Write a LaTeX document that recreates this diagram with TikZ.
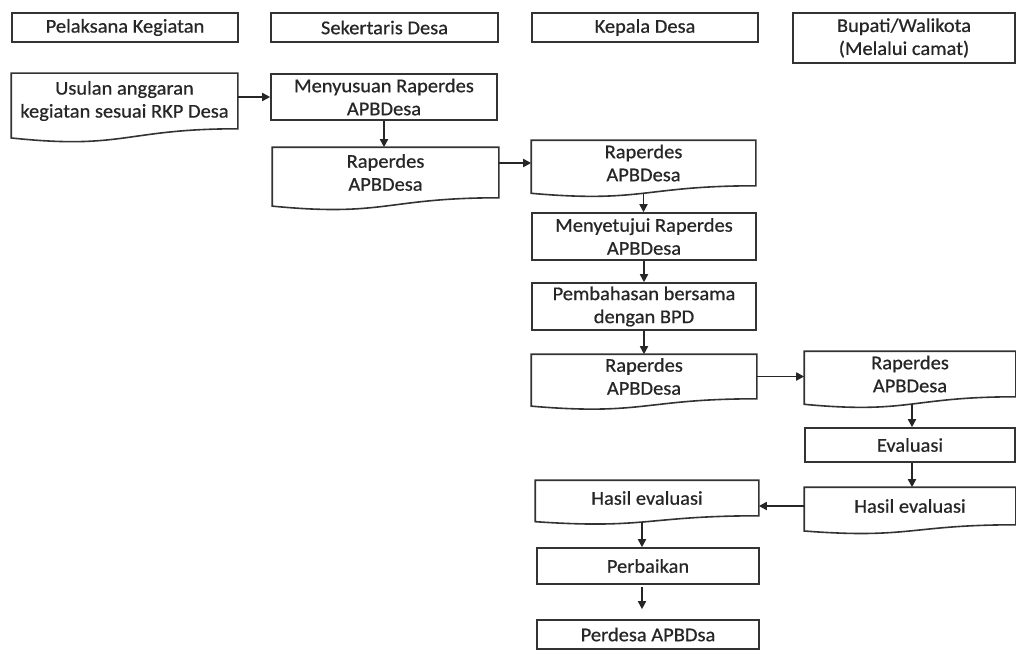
\documentclass[tikz,border=0pt]{standalone}
\usepackage{fontspec}
\setmainfont{Carlito}[FakeStretch=1.05,FakeBold=0.6]
\usetikzlibrary{arrows.meta,calc}
\tikzset{
  boxline/.style={line width=1.6pt, draw=black!80},
  box/.style={boxline, rectangle, inner sep=0pt, align=center, text=black!85,
    font=\fontsize{19.5}{23}\selectfont},
  docbox/.style={box, draw=none},
  conn/.style={line width=1.7pt, draw=black!85, -{Triangle[length=8pt,width=8pt]}},
}
\newcommand\docout[1]{%
  \draw[boxline] let \p1=(#1.north west), \p2=(#1.south east), \n1={\y1-\y2} in
    (\p2) -- (\x2,\y1) -- (\p1) -- (\x1,{\y2-0.1646*\n1})
    .. controls ({(\x1+\x2)/2},{\y2-0.3815*\n1}) and ({(\x1+\x2)/2},\y2) .. (\p2) -- cycle;}
\begin{document}
\begin{tikzpicture}[x=1pt,y=-1pt]
\useasboundingbox[fill=white] (0,0) rectangle (1016,650);
% headers
\node[box, minimum width=226pt, minimum height=29pt] (h1) at (125,27.5) {Pelaksana Kegiatan};
\node[box, minimum width=227pt, minimum height=29pt] (h2) at (384.5,27.5) {Sekertaris Desa};
\node[box, minimum width=226pt, minimum height=29pt] (h3) at (645,27.5) {Kepala Desa};
\node[box, minimum width=222pt, minimum height=50pt] (h4) at (904,38) {Bupati/Walikota\\(Melalui camat)};
% flow
\node[docbox, minimum width=225pt, minimum height=54pt] (u) at (124.5,101) {Usulan anggaran\\kegiatan sesuai RKP Desa};
\docout{u}
\node[box, minimum width=226pt, minimum height=46pt] (m) at (384,97) {Menyusuan Raperdes\\APBDesa};
\node[docbox, minimum width=225pt, minimum height=49pt] (r1) at (385.5,172.5) {Raperdes\\APBDesa};
\docout{r1}
\node[docbox, minimum width=223pt, minimum height=44pt] (r2) at (643.5,163) {Raperdes\\APBDesa};
\docout{r2}
\node[box, minimum width=224pt, minimum height=47pt] (s) at (644,236.5) {Menyetujui Raperdes\\APBDesa};
\node[box, minimum width=224pt, minimum height=47pt] (p) at (644,306.5) {Pembahasan bersama\\dengan BPD};
\node[docbox, minimum width=224pt, minimum height=43pt] (r3) at (644,376.5) {Raperdes\\APBDesa};
\docout{r3}
\node[docbox, minimum width=210pt, minimum height=44pt] (r4) at (910,374) {Raperdes\\APBDesa};
\docout{r4}
\node[box, minimum width=210pt, minimum height=34pt] (e) at (910,445) {Evaluasi};
\node[docbox, minimum width=210pt, minimum height=36pt] (hr) at (910,506) {Hasil evaluasi};
\docout{hr}
\node[docbox, minimum width=222pt, minimum height=34pt] (hl) at (647,498) {Hasil evaluasi};
\docout{hl}
\node[box, minimum width=222pt, minimum height=36pt] (pb) at (648,566) {Perbaikan};
\node[box, minimum width=222pt, minimum height=29pt] (pd) at (648,634.5) {Perdesa APBDsa};
% connectors
\draw[conn] (u.east |- m.west) -- (m.west);
\draw[conn] (m.south) -- (m.south |- r1.north);
\draw[conn] (r1.east |- r2.west) -- (r2.west);
\draw[conn] ([yshift=-7pt]r2.south) -- (r2.south |- s.north);
\draw[conn] (s.south) -- (s.south |- p.north);
\draw[conn] (p.south) -- (p.south |- r3.north);
\draw[conn] (r3.east) -- (r3.east -| r4.west);
\draw[conn] ([xshift=2pt,yshift=-7pt]r4.south) -- ([xshift=2pt]e.north);
\draw[conn] ([xshift=2pt]e.south) -- ([xshift=2pt]hr.north);
\draw[conn] (hr.west) -- (hr.west -| hl.east);
\draw[conn] ([xshift=-5pt,yshift=-6pt]hl.south) -- ([xshift=-6pt]pb.north);
\coordinate (tip) at ([xshift=-6pt,yshift=10pt]pd.north);
\draw[conn] ([xshift=-6pt,yshift=-2pt]pb.south) -- (tip);
\end{tikzpicture}
\end{document}
